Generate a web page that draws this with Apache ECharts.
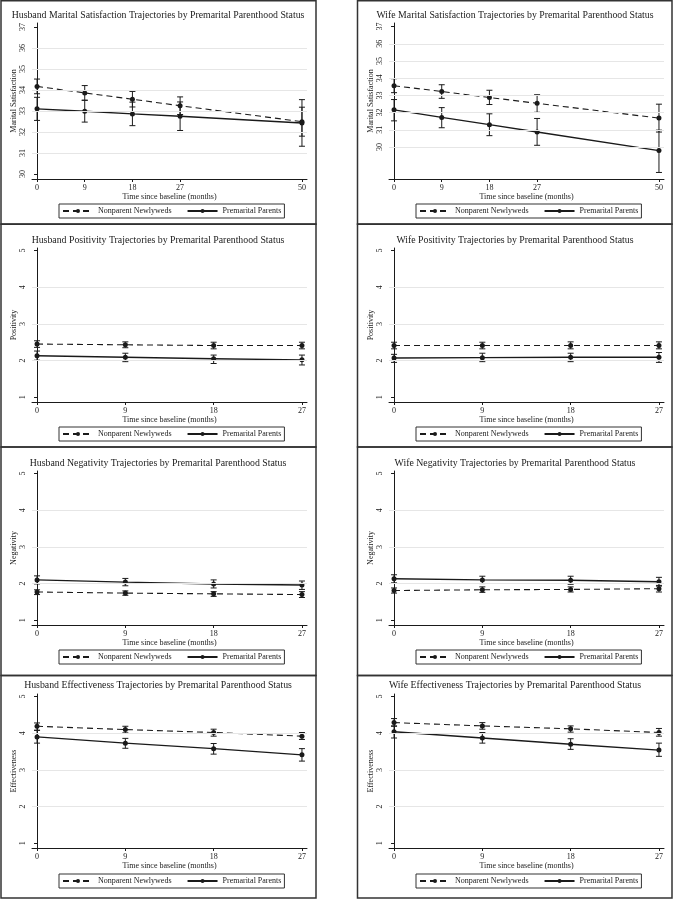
<!DOCTYPE html>
<html><head><meta charset="utf-8">
<script src="https://cdn.jsdelivr.net/npm/echarts@6/dist/echarts.min.js"></script>
<style>html,body{margin:0;padding:0;background:#fff}#c{width:674px;height:900px}</style>
</head><body><div id="c"></div>
<script>
// ---------- data ----------
const monthsLong = [0, 9, 18, 27, 50];
const monthsShort = [0, 9, 18, 27];
const seriesNames = ['Nonparent Newlyweds', 'Premarital Parents'];
const xAxisTitle = 'Time since baseline (months)';
const panelTitles = [
  'Husband Marital Satisfaction Trajectories by Premarital Parenthood Status',
  'Wife Marital Satisfaction Trajectories by Premarital Parenthood Status',
  'Husband Positivity Trajectories by Premarital Parenthood Status',
  'Wife Positivity Trajectories by Premarital Parenthood Status',
  'Husband Negativity Trajectories by Premarital Parenthood Status',
  'Wife Negativity Trajectories by Premarital Parenthood Status',
  'Husband Effectiveness Trajectories by Premarital Parenthood Status',
  'Wife Effectiveness Trajectories by Premarital Parenthood Status'
];
const yTitles = ['Marital Satisfaction', 'Marital Satisfaction', 'Positivity', 'Positivity',
  'Negativity', 'Negativity', 'Effectiveness', 'Effectiveness'];
const msTickLabels = [30, 31, 32, 33, 34, 35, 36, 37];
const scaleTickLabels = [1, 2, 3, 4, 5];
const husMSGridlines = [31, 32, 33, 34, 35, 36];
const wifeMSGridlines = [30, 31, 32, 33, 34, 35, 36];
const scaleGridlines = [2, 3, 4];

// Husband marital satisfaction
const husMS_non = [34.17, 33.86, 33.56, 33.25, 32.49];
const husMS_nonHi = [34.52, 34.21, 33.93, 33.67, 33.18];
const husMS_nonLo = [33.82, 33.51, 33.19, 32.83, 31.80];
const husMS_par = [33.10, 32.99, 32.86, 32.75, 32.43];
const husMS_parHi = [33.65, 33.51, 33.42, 33.43, 33.54];
const husMS_parLo = [32.55, 32.47, 32.30, 32.07, 31.32];
// Wife marital satisfaction
const wifeMS_non = [33.56, 33.23, 32.88, 32.54, 31.68];
const wifeMS_nonHi = [33.97, 33.62, 33.30, 33.04, 32.49];
const wifeMS_nonLo = [33.16, 32.83, 32.47, 32.02, 30.87];
const wifeMS_par = [32.16, 31.72, 31.30, 30.87, 29.79];
const wifeMS_parHi = [32.76, 32.29, 31.93, 31.66, 30.98];
const wifeMS_parLo = [31.52, 31.12, 30.66, 30.10, 28.52];
// Husband positivity
const husPos_non = [2.45, 2.43, 2.41, 2.41];
const husPos_nonHi = [2.54, 2.51, 2.50, 2.50];
const husPos_nonLo = [2.36, 2.35, 2.32, 2.32];
const husPos_par = [2.13, 2.09, 2.05, 2.02];
const husPos_parHi = [2.26, 2.20, 2.15, 2.15];
const husPos_parLo = [2.01, 1.97, 1.92, 1.88];
// Wife positivity
const wifePos_non = [2.41, 2.41, 2.41, 2.41];
const wifePos_nonHi = [2.50, 2.50, 2.51, 2.51];
const wifePos_nonLo = [2.32, 2.32, 2.32, 2.32];
const wifePos_par = [2.07, 2.08, 2.09, 2.09];
const wifePos_parHi = [2.17, 2.20, 2.20, 2.22];
const wifePos_parLo = [1.95, 1.97, 1.97, 1.95];
// Husband negativity
const husNeg_non = [1.77, 1.74, 1.72, 1.70];
const husNeg_nonHi = [1.83, 1.80, 1.78, 1.78];
const husNeg_nonLo = [1.70, 1.68, 1.65, 1.62];
const husNeg_par = [2.10, 2.04, 1.99, 1.96];
const husNeg_parHi = [2.21, 2.14, 2.10, 2.07];
const husNeg_parLo = [1.99, 1.94, 1.88, 1.84];
// Wife negativity
const wifeNeg_non = [1.81, 1.83, 1.84, 1.86];
const wifeNeg_nonHi = [1.88, 1.91, 1.91, 1.95];
const wifeNeg_nonLo = [1.74, 1.76, 1.77, 1.77];
const wifeNeg_par = [2.13, 2.10, 2.09, 2.05];
const wifeNeg_parHi = [2.24, 2.20, 2.20, 2.17];
const wifeNeg_parLo = [2.02, 2.00, 1.98, 1.93];
// Husband effectiveness
const husEff_non = [4.19, 4.10, 4.02, 3.92];
const husEff_nonHi = [4.28, 4.19, 4.11, 4.02];
const husEff_nonLo = [4.08, 4.01, 3.92, 3.83];
const husEff_par = [3.90, 3.73, 3.58, 3.41];
const husEff_parHi = [4.08, 3.86, 3.72, 3.58];
const husEff_parLo = [3.73, 3.59, 3.43, 3.24];
// Wife effectiveness
const wifeEff_non = [4.29, 4.20, 4.12, 4.02];
const wifeEff_nonHi = [4.40, 4.29, 4.20, 4.13];
const wifeEff_nonLo = [4.19, 4.11, 4.03, 3.92];
const wifeEff_par = [4.04, 3.87, 3.70, 3.54];
const wifeEff_parHi = [4.20, 4.02, 3.85, 3.73];
const wifeEff_parLo = [3.87, 3.73, 3.56, 3.37];

// ---------- panel definitions ----------
const panels = [
  {x: monthsLong, ticks: msTickLabels, gridlines: husMSGridlines, yMin: 29.76, yMax: 37.19,
   non: [husMS_non, husMS_nonLo, husMS_nonHi], par: [husMS_par, husMS_parLo, husMS_parHi]},
  {x: monthsLong, ticks: msTickLabels, gridlines: wifeMSGridlines, yMin: 28.14, yMax: 37.21,
   non: [wifeMS_non, wifeMS_nonLo, wifeMS_nonHi], par: [wifeMS_par, wifeMS_parLo, wifeMS_parHi]},
  {x: monthsShort, ticks: scaleTickLabels, gridlines: scaleGridlines, yMin: 0.87, yMax: 5.07,
   non: [husPos_non, husPos_nonLo, husPos_nonHi], par: [husPos_par, husPos_parLo, husPos_parHi]},
  {x: monthsShort, ticks: scaleTickLabels, gridlines: scaleGridlines, yMin: 0.87, yMax: 5.07,
   non: [wifePos_non, wifePos_nonLo, wifePos_nonHi], par: [wifePos_par, wifePos_parLo, wifePos_parHi]},
  {x: monthsShort, ticks: scaleTickLabels, gridlines: scaleGridlines, yMin: 0.87, yMax: 5.07,
   non: [husNeg_non, husNeg_nonLo, husNeg_nonHi], par: [husNeg_par, husNeg_parLo, husNeg_parHi]},
  {x: monthsShort, ticks: scaleTickLabels, gridlines: scaleGridlines, yMin: 0.87, yMax: 5.07,
   non: [wifeNeg_non, wifeNeg_nonLo, wifeNeg_nonHi], par: [wifeNeg_par, wifeNeg_parLo, wifeNeg_parHi]},
  {x: monthsShort, ticks: scaleTickLabels, gridlines: scaleGridlines, yMin: 0.87, yMax: 5.07,
   non: [husEff_non, husEff_nonLo, husEff_nonHi], par: [husEff_par, husEff_parLo, husEff_parHi]},
  {x: monthsShort, ticks: scaleTickLabels, gridlines: scaleGridlines, yMin: 0.87, yMax: 5.07,
   non: [wifeEff_non, wifeEff_nonLo, wifeEff_nonHi], par: [wifeEff_par, wifeEff_parLo, wifeEff_parHi]}
];

// ---------- layout ----------
const FONT = 'Liberation Serif';
const INK = '#1a1a1a';
const colGridLeft = [32, 389];
const colPanelCenter = [158, 515];
const colLegendLeft = [59, 416];
const rowGridTop = [23, 248, 471, 694];
const rowGridHeight = [156, 154, 154, 154];
const rowTitleTop = [10, 235, 458, 680];
const rowLegendTop = [204, 427, 650, 874];
const panelBoxes = [[1, 0.75, 315, 223.5], [357.5, 0.75, 314.5, 223.5],
  [1, 224, 315, 223], [357.5, 224, 314.5, 223],
  [1, 447, 315, 228.5], [357.5, 447, 314.5, 228.5],
  [1, 675.5, 315, 222.5], [357.5, 675.5, 314.5, 222.5]];

function errRender(params, api) {
  const x = api.value(0), lo = api.value(1), hi = api.value(2);
  const a = api.coord([x, lo]), b = api.coord([x, hi]);
  const w = 3;
  const style = {stroke: INK, lineWidth: 1};
  return {type: 'group', children: [
    {type: 'line', shape: {x1: a[0], y1: a[1], x2: b[0], y2: b[1]}, style},
    {type: 'line', shape: {x1: a[0] - w, y1: a[1], x2: a[0] + w, y2: a[1]}, style},
    {type: 'line', shape: {x1: b[0] - w, y1: b[1], x2: b[0] + w, y2: b[1]}, style}
  ]};
}

const option = {
  animation: false,
  backgroundColor: '#fff',
  title: [], grid: [], xAxis: [], yAxis: [], legend: [], series: [],
  graphic: panelBoxes.map(b => ({type: 'rect', silent: true, z: 100,
    shape: {x: b[0], y: b[1], width: b[2], height: b[3]},
    style: {fill: 'none', stroke: '#333', lineWidth: 1.5}}))
};

panels.forEach((p, i) => {
  const col = i % 2, row = Math.floor(i / 2);
  const xMax = p.x[p.x.length - 1];
  const pad = xMax * 0.019;
  option.title.push({text: panelTitles[i], left: colPanelCenter[col], top: rowTitleTop[row],
    textAlign: 'center', padding: 0,
    textStyle: {fontFamily: FONT, fontSize: 9.8, fontWeight: 'normal', color: INK}});
  option.grid.push({left: colGridLeft[col], top: rowGridTop[row], width: 275, height: rowGridHeight[row]});
  option.xAxis.push({type: 'value', gridIndex: i, min: -pad, max: xMax + pad,
    name: xAxisTitle, nameLocation: 'middle', nameGap: 12,
    nameTextStyle: {fontFamily: FONT, fontSize: 8, color: INK},
    axisLine: {lineStyle: {color: INK, width: 1}},
    axisTick: {length: 3, customValues: p.x, lineStyle: {color: INK}},
    axisLabel: {customValues: p.x, fontFamily: FONT, fontSize: 8, color: INK, margin: 5},
    splitLine: {show: false}});
  option.yAxis.push({type: 'value', gridIndex: i, min: p.yMin, max: p.yMax,
    name: yTitles[i], nameLocation: 'middle', nameGap: 13,
    nameTextStyle: {fontFamily: FONT, fontSize: 8, color: INK},
    axisLine: {show: true, lineStyle: {color: INK, width: 1}},
    axisTick: {show: true, length: 3, customValues: p.ticks, lineStyle: {color: INK}},
    axisLabel: {customValues: p.ticks, rotate: 90, fontFamily: FONT, fontSize: 8, color: INK, margin: 5},
    splitLine: {show: false}});
  option.legend.push({left: colLegendLeft[col], top: rowLegendTop[row], data: seriesNames,
    itemWidth: 30, itemHeight: 5, itemGap: 15, padding: [3, 3], selectedMode: false,
    borderColor: '#333', borderWidth: 1, borderRadius: 0,
    textStyle: {fontFamily: FONT, fontSize: 8, color: INK}});
  // gridlines
  option.series.push({type: 'line', xAxisIndex: i, yAxisIndex: i, data: [], silent: true, z: 1,
    markLine: {silent: true, symbol: 'none', label: {show: false},
      lineStyle: {color: '#e6e6e6', type: 'solid', width: 1},
      data: p.gridlines.map(v => ({yAxis: v}))}});
  const groups = [['non', 'dashed'], ['par', 'solid']];
  groups.forEach(([key, kind], gi) => {
    const [mid, lo, hi] = p[key];
    option.series.push({type: 'line', name: seriesNames[gi], xAxisIndex: i, yAxisIndex: i, z: 3,
      data: p.x.map((xv, k) => [xv, mid[k]]),
      symbol: 'circle', symbolSize: 5,
      itemStyle: {color: INK},
      lineStyle: {color: INK, width: kind === 'dashed' ? 1.1 : 1.4, type: kind === 'dashed' ? [6, 4] : 'solid'}});
    option.series.push({type: 'custom', xAxisIndex: i, yAxisIndex: i, z: 2, silent: true,
      renderItem: errRender, encode: {x: 0, y: [1, 2]},
      data: p.x.map((xv, k) => [xv, lo[k], hi[k]])});
  });
});

const chart = echarts.init(document.getElementById('c'), null, {renderer: 'canvas'});
chart.setOption(option);
</script></body></html>
